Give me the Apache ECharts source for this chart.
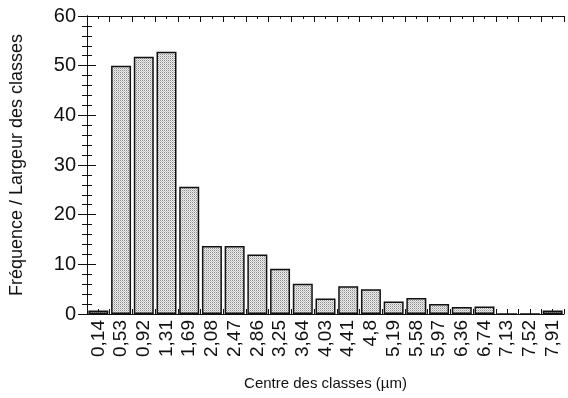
<!DOCTYPE html>
<html>
<head>
<meta charset="utf-8">
<script src="https://cdn.jsdelivr.net/npm/echarts@6/dist/echarts.min.js"></script>
<style>
  html, body { margin: 0; padding: 0; background: #fff; }
  #chart { width: 568px; height: 398px; }
</style>
</head>
<body>
<div id="chart"></div>
<script>
const categories = ['0,14','0,53','0,92','1,31','1,69','2,08','2,47','2,86','3,25','3,64','4,03',
                    '4,41','4,8','5,19','5,58','5,97','6,36','6,74','7,13','7,52','7,91'];
const values = [0.7, 50, 51.8, 52.8, 25.6, 13.7, 13.7, 12, 9.1, 6.1, 3.1,
                5.6, 5.0, 2.5, 3.2, 2.0, 1.4, 1.5, 0, 0, 0.7];
const yTicks = [0, 60, 10];

// motif pointillé des barres
function stipple() {
  const c = document.createElement('canvas');
  c.width = 2; c.height = 2;
  const g = c.getContext('2d');
  g.fillStyle = '#ececec'; g.fillRect(0, 0, 2, 2);
  g.fillStyle = '#8c8c8c'; g.fillRect(0, 0, 1, 1);
  g.fillStyle = '#c4c4c4'; g.fillRect(1, 1, 1, 1);
  return c;
}

const font = 'Liberation Sans';
const black = '#111';
const n = categories.length;

const chart = echarts.init(document.getElementById('chart'));
chart.setOption({
  animation: false,
  grid: { left: 84, right: 4, top: 16, bottom: 84 },
  xAxis: [
    {
      type: 'category', data: categories, position: 'bottom',
      name: 'Centre des classes (µm)', nameLocation: 'middle', nameGap: 62,
      nameTextStyle: { fontFamily: font, fontSize: 15, color: black },
      axisLine: { lineStyle: { color: black, width: 1 } },
      axisTick: { show: false },
      axisLabel: { interval: 0, rotate: 90, margin: 6, fontFamily: font, fontSize: 19, color: black }
    },
    {
      type: 'value', position: 'bottom', min: 0, max: n, interval: 0.5,
      axisLine: { show: false }, axisLabel: { show: false }, splitLine: { show: false },
      axisTick: { inside: true, length: 5, lineStyle: { color: black } }
    },
    {
      type: 'value', position: 'top', min: 0, max: n, interval: 1,
      axisLine: { lineStyle: { color: black } }, axisLabel: { show: false }, splitLine: { show: false },
      axisTick: { inside: true, length: 6, lineStyle: { color: black } },
      minorTick: { show: true, splitNumber: 2, length: 3, lineStyle: { color: black } }
    }
  ],
  yAxis: [
    {
      type: 'value', min: yTicks[0], max: yTicks[1], interval: yTicks[2], position: 'left',
      name: 'Fréquence / Largeur des classes', nameLocation: 'middle', nameGap: 61,
      nameTextStyle: { fontFamily: font, fontSize: 18, color: black },
      axisLine: { show: true, lineStyle: { color: black } },
      axisTick: { show: true, inside: true, length: 9, lineStyle: { color: black } },
      minorTick: { show: true, splitNumber: 5, length: 5, lineStyle: { color: black } },
      axisLabel: { margin: 11, fontFamily: font, fontSize: 20, color: black },
      splitLine: { show: false }
    },
    {
      type: 'value', min: yTicks[0], max: yTicks[1], interval: yTicks[2], position: 'right',
      axisLine: { show: true, lineStyle: { color: black } },
      axisTick: { show: true, inside: true, length: 9, lineStyle: { color: black } },
      minorTick: { show: true, splitNumber: 5, length: 5, lineStyle: { color: black } },
      axisLabel: { show: false },
      splitLine: { show: false }
    }
  ],
  series: [{
    type: 'bar', data: values, xAxisIndex: 0, yAxisIndex: 0,
    barCategoryGap: '12%',
    itemStyle: { color: { image: stipple(), repeat: 'repeat' }, borderColor: black, borderWidth: 1.5 }
  }]
});
</script>
</body>
</html>
